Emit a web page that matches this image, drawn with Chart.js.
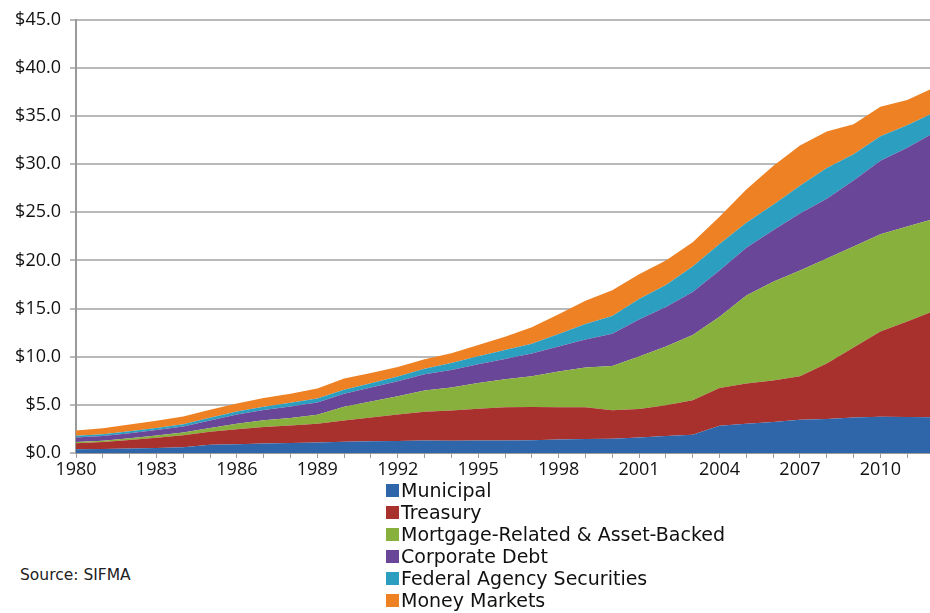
<!DOCTYPE html>
<html>
<head>
<meta charset="utf-8">
<script src="https://cdn.jsdelivr.net/npm/chart.js@4.4.1/dist/chart.umd.min.js"></script>
<style>
  body { margin: 0; background: #fff; }
  #wrap { position: relative; width: 930px; height: 613px; overflow: hidden; }
  #chartBox { position: absolute; left: 0; top: 0; }
  #legend { position: absolute; left: 386px; top: 479px; font-family: "DejaVu Sans", sans-serif; font-size: 19px; color: #111; }
  #legend .item { height: 22px; display: flex; align-items: center; white-space: nowrap; }
  #legend .box { width: 13px; height: 13px; margin-right: 2px; flex: none; }
  #source { position: absolute; left: 20px; top: 566px; font-family: "DejaVu Sans", sans-serif; font-size: 15.5px; color: #222; }
</style>
</head>
<body>
<div id="wrap">
  <canvas id="chartBox" width="930" height="490"></canvas>
  <div id="legend"></div>
  <div id="source">Source: SIFMA</div>
</div>
<script>
// $ trillions outstanding
const years = [1980, 1981, 1982, 1983, 1984, 1985, 1986, 1987, 1988, 1989,
               1990, 1991, 1992, 1993, 1994, 1995, 1996, 1997, 1998, 1999,
               2000, 2001, 2002, 2003, 2004, 2005, 2006, 2007, 2008, 2009,
               2010, 2011, 2012];

const municipal = [0.40, 0.42, 0.47, 0.53, 0.59, 0.86, 0.92, 0.99, 1.04, 1.10,
                   1.18, 1.23, 1.25, 1.30, 1.28, 1.29, 1.30, 1.32, 1.40, 1.46,
                   1.48, 1.60, 1.76, 1.90, 2.82, 3.04, 3.21, 3.45, 3.54, 3.70,
                   3.77, 3.74, 3.71];
const treasury = [0.62, 0.72, 0.88, 1.05, 1.25, 1.36, 1.56, 1.72, 1.82, 1.95,
                  2.20, 2.47, 2.75, 2.99, 3.13, 3.31, 3.46, 3.46, 3.36, 3.28,
                  2.95, 2.97, 3.20, 3.57, 3.94, 4.17, 4.32, 4.52, 5.77, 7.25,
                  8.85, 9.93, 11.05];
const mortgage = [0.11, 0.13, 0.18, 0.25, 0.29, 0.37, 0.55, 0.68, 0.77, 0.92,
                  1.42, 1.66, 1.90, 2.20, 2.40, 2.67, 2.90, 3.20, 3.70, 4.15,
                  4.60, 5.45, 6.10, 6.80, 7.40, 9.15, 10.25, 11.00, 10.90, 10.50,
                  10.10, 9.85, 9.55];
const corporate = [0.48, 0.49, 0.52, 0.55, 0.62, 0.78, 0.96, 1.08, 1.20, 1.28,
                   1.35, 1.45, 1.56, 1.70, 1.80, 1.94, 2.10, 2.36, 2.60, 2.90,
                   3.36, 3.84, 4.10, 4.46, 4.80, 4.97, 5.37, 5.90, 6.20, 6.85,
                   7.65, 8.20, 8.95];
const agency = [0.17, 0.20, 0.21, 0.21, 0.24, 0.29, 0.31, 0.34, 0.38, 0.41,
                0.42, 0.44, 0.48, 0.57, 0.74, 0.84, 0.93, 1.02, 1.30, 1.62,
                1.85, 2.15, 2.29, 2.64, 2.75, 2.60, 2.65, 2.90, 3.20, 2.73,
                2.54, 2.33, 2.10];
const moneyMarkets = [0.55, 0.62, 0.70, 0.75, 0.80, 0.82, 0.85, 0.90, 0.95, 1.05,
                      1.16, 1.06, 1.00, 0.98, 1.00, 1.18, 1.39, 1.69, 2.05, 2.40,
                      2.66, 2.57, 2.55, 2.52, 2.83, 3.43, 4.01, 4.17, 3.79, 3.13,
                      3.05, 2.62, 2.60];

const seriesNames = ['Municipal', 'Treasury', 'Mortgage-Related & Asset-Backed',
                     'Corporate Debt', 'Federal Agency Securities', 'Money Markets'];
const seriesValues = [municipal, treasury, mortgage, corporate, agency, moneyMarkets];
const seriesColors = ['#2f65a9', '#a8302d', '#88b03c', '#6a4699', '#2c9ec0', '#ee8123'];

const yTicks = [0, 5, 10, 15, 20, 25, 30, 35, 40, 45];

const datasets = seriesNames.map((name, i) => ({
    label: name,
    data: years.map((yr, j) => ({ x: yr, y: seriesValues[i][j] })),
    backgroundColor: seriesColors[i],
    borderWidth: 0,
    pointRadius: 0,
    tension: 0,
    fill: i === 0 ? 'origin' : '-1'
}));

const axisFont = { family: '"Open Sans", sans-serif', size: 18 };

const myChart = new Chart(document.getElementById('chartBox'), {
    type: 'line',
    data: { datasets: datasets },
    options: {
        responsive: false,
        animation: false,
        layout: { padding: { top: 17, right: 0, left: 0, bottom: 0 } },
        plugins: { legend: { display: false }, tooltip: { enabled: false } },
        scales: {
            x: {
                type: 'linear',
                min: 1980,
                max: 2011.85,
                afterFit: s => { s.height = 37; },
                border: { color: '#9a9a9a', width: 2 },
                grid: { drawOnChartArea: false, drawTicks: true, tickLength: 5, color: '#9a9a9a' },
                ticks: {
                    stepSize: 1,
                    autoSkip: false,
                    includeBounds: false,
                    maxRotation: 0,
                    padding: 1,
                    color: '#111',
                    font: axisFont,
                    callback: v => ((v - 1980) % 3 === 0 ? String(v) : '')
                }
            },
            y: {
                stacked: true,
                min: 0,
                max: 45,
                afterFit: s => { s.width = 76; },
                afterBuildTicks: s => { s.ticks = yTicks.map(v => ({ value: v })); },
                border: { color: '#9a9a9a', width: 2 },
                grid: { color: '#b9b9b9', lineWidth: 2, tickLength: 6 },
                ticks: {
                    padding: 9,
                    color: '#111',
                    font: axisFont,
                    callback: v => '$' + v.toFixed(1)
                }
            }
        }
    }
});

// vertical legend, Municipal first
const legend = document.getElementById('legend');
seriesNames.forEach((name, i) => {
    const row = document.createElement('div');
    row.className = 'item';
    const box = document.createElement('span');
    box.className = 'box';
    box.style.background = seriesColors[i];
    row.appendChild(box);
    row.appendChild(document.createTextNode(name));
    legend.appendChild(row);
});
</script>
</body>
</html>
